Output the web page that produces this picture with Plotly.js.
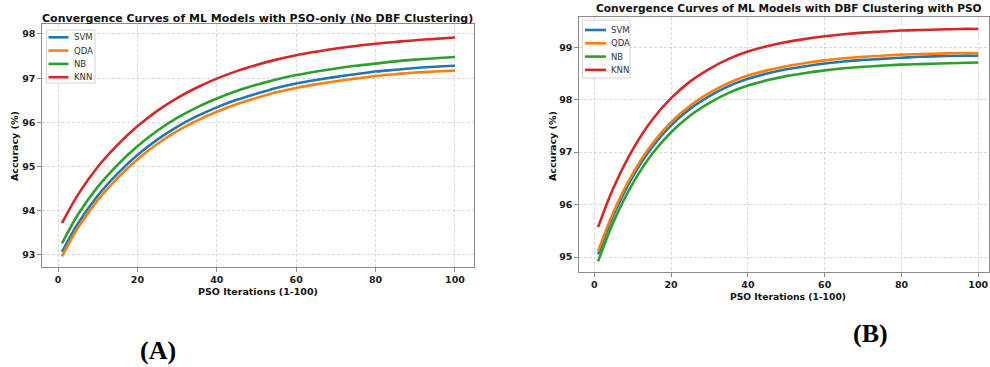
<!DOCTYPE html>
<html><head><meta charset="utf-8">
<script src="https://cdn.plot.ly/plotly-3.0.1.min.js"></script>
<style>html,body{margin:0;padding:0;background:#fff;}#chart{width:990px;height:367px;}</style>
</head><body><div id="chart"></div>
<script>
// ---- data ----
const iterations = [1, 5, 10, 15, 20, 25, 30, 35, 40, 45, 50, 55, 60, 65, 70, 75, 80, 85, 90, 95, 100];
const models = ['SVM', 'QDA', 'NB', 'KNN'];
const modelColors = ['#1f77b4', '#ff7f0e', '#2ca02c', '#d62728'];

// (A) PSO-only
const svmA = [93.07, 93.71, 94.34, 94.84, 95.26, 95.61, 95.90, 96.14, 96.34, 96.51, 96.65, 96.78, 96.88, 96.96, 97.03, 97.09, 97.15, 97.19, 97.23, 97.26, 97.28];
const qdaA = [92.97, 93.61, 94.24, 94.74, 95.16, 95.51, 95.80, 96.04, 96.24, 96.41, 96.55, 96.68, 96.78, 96.86, 96.93, 96.99, 97.05, 97.09, 97.13, 97.15, 97.17];
const nbA  = [93.26, 93.91, 94.54, 95.04, 95.46, 95.81, 96.10, 96.34, 96.54, 96.71, 96.85, 96.97, 97.07, 97.15, 97.22, 97.28, 97.33, 97.38, 97.42, 97.45, 97.48];
const knnA = [93.72, 94.36, 94.99, 95.49, 95.91, 96.26, 96.55, 96.79, 96.99, 97.16, 97.30, 97.42, 97.52, 97.60, 97.67, 97.73, 97.78, 97.82, 97.86, 97.89, 97.92];

// (B) DBF clustering + PSO
const svmB = [95.05, 95.80, 96.53, 97.09, 97.51, 97.83, 98.07, 98.26, 98.40, 98.50, 98.58, 98.64, 98.69, 98.73, 98.76, 98.78, 98.80, 98.82, 98.83, 98.84, 98.84];
const qdaB = [95.11, 95.86, 96.59, 97.15, 97.57, 97.89, 98.13, 98.32, 98.46, 98.56, 98.64, 98.70, 98.75, 98.79, 98.82, 98.84, 98.86, 98.87, 98.88, 98.89, 98.89];
const nbB  = [94.92, 95.67, 96.40, 96.96, 97.38, 97.70, 97.94, 98.13, 98.27, 98.37, 98.45, 98.51, 98.56, 98.60, 98.63, 98.65, 98.67, 98.68, 98.69, 98.70, 98.71];
const knnB = [95.57, 96.32, 97.05, 97.61, 98.03, 98.35, 98.59, 98.78, 98.92, 99.02, 99.10, 99.16, 99.21, 99.25, 99.28, 99.30, 99.32, 99.33, 99.34, 99.35, 99.35];

const xTicks = [0, 20, 40, 60, 80, 100];
const yTicksA = [93, 94, 95, 96, 97, 98];
const yTicksB = [95, 96, 97, 98, 99];

const titleA = 'Convergence Curves of ML Models with PSO-only (No DBF Clustering)';
const titleB = 'Convergence Curves of ML Models with DBF Clustering with PSO';
const xTitle = 'PSO Iterations (1-100)';
const yTitle = 'Accuracy (%)';
const panelLabels = ['(A)', '(B)'];

// ---- figure ----
const W = 990, H = 367;
const px = v => v / W;
const py = v => 1 - v / H;

const seriesA = [svmA, qdaA, nbA, knnA];
const seriesB = [svmB, qdaB, nbB, knnB];

const traces = [];
seriesA.forEach((ys, i) => traces.push({
  x: iterations, y: ys, name: models[i], type: 'scatter', mode: 'lines',
  line: {color: modelColors[i], width: 2.6, shape: 'spline', smoothing: 1},
  xaxis: 'x', yaxis: 'y', showlegend: false, hoverinfo: 'skip'
}));
seriesB.forEach((ys, i) => traces.push({
  x: iterations, y: ys, name: models[i], type: 'scatter', mode: 'lines',
  line: {color: modelColors[i], width: 2.6, shape: 'spline', smoothing: 1},
  xaxis: 'x2', yaxis: 'y2', showlegend: false, hoverinfo: 'skip'
}));

const tickFont = {family: 'DejaVu Sans', size: 9.5, weight: 'bold', color: '#1a1a1a'};
function axisBase(extra) {
  return Object.assign({
    showgrid: true, gridcolor: '#cfcfcf', gridwidth: 0.8, griddash: '3px,2px',
    showline: true, mirror: true, linecolor: '#8a8a8a', linewidth: 1.2,
    ticks: 'outside', ticklen: 3.5, tickwidth: 1, tickcolor: '#8a8a8a',
    tickfont: tickFont, zeroline: false, fixedrange: true, tickmode: 'array'
  }, extra);
}

const annotations = [];
const shapes = [];
function txt(t, x, y, size, opts) {
  annotations.push(Object.assign({
    text: t, xref: 'paper', yref: 'paper', x: px(x), y: py(y),
    xanchor: 'center', yanchor: 'middle', showarrow: false,
    font: {family: 'DejaVu Sans', size: size, weight: 'bold', color: '#111'}
  }, opts || {}));
}
txt(titleA, 257.5, 18, 11);
txt(titleB, 789, 8.5, 10.6);
txt(xTitle, 258, 291, 9.5);
txt(xTitle, 788, 296, 9.2);
txt(yTitle, 14, 146, 9.5, {textangle: -90});
txt(yTitle, 552, 146, 9.5, {textangle: -90});
txt(panelLabels[0], 158, 350, 26, {font: {family: 'Liberation Serif', size: 26, weight: 'bold', color: '#000'}});
txt(panelLabels[1], 870, 333, 26, {font: {family: 'Liberation Serif', size: 26, weight: 'bold', color: '#000'}});

// legends (drawn in paper space)
function legend(x0, y0, x1, y1, firstY, lineX0, lineX1, textX) {
  shapes.push({type: 'rect', xref: 'paper', yref: 'paper', x0: px(x0), x1: px(x1), y0: py(y1), y1: py(y0),
    line: {color: '#d4d4d4', width: 1}, fillcolor: 'rgba(255,255,255,0.85)', layer: 'above'});
  models.forEach((m, i) => {
    const yy = firstY + i * 13.3;
    shapes.push({type: 'line', xref: 'paper', yref: 'paper', x0: px(lineX0), x1: px(lineX1), y0: py(yy), y1: py(yy),
      line: {color: modelColors[i], width: 2.6}, layer: 'above'});
    annotations.push({text: m, xref: 'paper', yref: 'paper', x: px(textX), y: py(yy), xanchor: 'left', yanchor: 'middle',
      showarrow: false, font: {family: 'DejaVu Sans', size: 8.5, color: '#333'}});
  });
}
legend(46.5, 30, 95, 83, 37.3, 48.5, 68.5, 71.5);
legend(582.5, 20, 630, 78, 30, 585, 606, 608.5);

const layout = {
  width: W, height: H, margin: {l: 0, r: 0, t: 0, b: 0},
  paper_bgcolor: '#fff', plot_bgcolor: '#fff', showlegend: false,
  xaxis: axisBase({domain: [px(42), px(474)], range: [-4.03, 104.79], tickvals: xTicks, anchor: 'y'}),
  yaxis: axisBase({domain: [py(267), py(24)], range: [92.728, 98.226], tickvals: yTicksA, anchor: 'x'}),
  xaxis2: axisBase({domain: [px(579), px(989)], range: [-3.98, 102.79], tickvals: xTicks, anchor: 'y2'}),
  yaxis2: axisBase({domain: [py(272), py(17)], range: [94.714, 99.578], tickvals: yTicksB, anchor: 'x2'}),
  annotations: annotations, shapes: shapes
};

Plotly.newPlot('chart', traces, layout, {displayModeBar: false, staticPlot: true});
</script>
</body></html>
